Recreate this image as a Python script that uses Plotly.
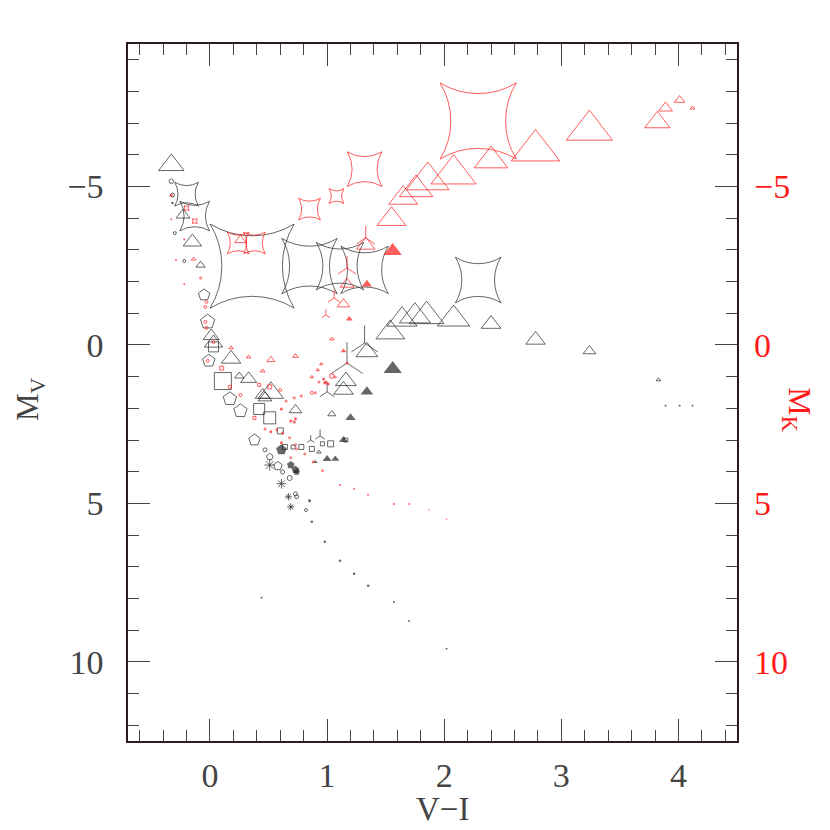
import plotly.graph_objects as go

# ---------------- data (V-I colour, absolute magnitude, symbol weight) ----------------
# black open triangles (M_V)
bt_vi = [-0.33,-0.23,-0.15,-0.08,0.01,0.03,0.18,0.25,0.33,0.45,0.52,0.47,0.73,1.04,1.16,1.14,1.34,1.54,1.64,1.75,1.85,2.08,2.40,2.78,3.24,3.83,0.93]
bt_mv = [-5.68,-4.10,-3.25,-2.52,-0.28,-0.06,0.44,0.98,1.07,1.58,1.51,1.67,2.05,2.18,1.14,1.42,0.22,-0.39,-0.80,-0.91,-0.91,-0.82,-0.66,-0.16,0.19,1.10,3.38]
bt_w  = [22,12,16,8,14,16,17,8,14,13,22,12,11,7,18,17,19,25,26,27,30,28,17,17,11,4,4]

# black filled triangles
bf_vi = [1.56,1.34,1.20,1.14,1.00,1.07,0.90]
bf_mv = [0.76,1.48,2.30,3.00,3.60,3.60,3.69]
bf_w  = [16,11,9,8,8,7,4]

# black four-point stars
bs_vi = [2.29,0.36,0.85,1.11,1.32,-0.20,-0.13]
bs_mv = [-2.05,-2.49,-2.49,-2.49,-2.37,-4.76,-4.07]
bs_w  = [46,85,56,48,48,24,30]

# black three-armed symbols
by_vi = [1.32,1.17,1.00,0.94,0.86]
by_mv = [-0.06,0.57,1.48,2.87,3.00]
by_w  = [22,26,12,8,6]

# black open squares
bq_vi = [0.11,0.42,0.51,0.60,0.64,0.71,0.78,0.87,0.96,1.03,1.16,0.03]
bq_mv = [1.14,2.02,2.30,2.71,3.22,3.22,3.22,3.28,3.12,3.12,3.00,0.06]
bq_w  = [17,11,12,6,5,4,5,5,4,6,4,10]

# black open pentagons
bp_vi = [-0.02,-0.05,-0.01,0.17,0.26,0.38,0.51,0.58,-0.33]
bp_mv = [-0.73,-1.58,0.50,1.70,2.08,3.00,3.53,3.82,-5.17]
bp_w  = [15,12,13,14,14,12,7,9,5]

# black filled pentagons
bpf_vi = [0.61,0.69,0.73,0.74]
bpf_mv = [3.31,3.79,3.94,4.01]
bpf_w  = [11,8,8,7]

# black open circles
bc_vi = [0.47,0.62,0.68,0.73,0.74,0.82,-0.32,-0.30,-0.22]
bc_mv = [3.31,4.01,4.20,4.70,4.79,5.21,-4.73,-3.53,-2.65]
bc_w  = [4,4,5,4,4,3,4,3,3]

# black dots
bd_vi = [0.85,0.87,0.98,1.11,1.23,1.35,1.57,1.70,2.02,0.44,3.89,4.01,4.12,-0.32]
bd_mv = [4.92,5.58,6.21,6.81,7.22,7.60,8.11,8.71,9.59,7.98,1.92,1.92,1.92,-4.48]
bd_w  = [3,2.5,2.5,2.5,2.5,2.5,2,2,2,2,2,2,2,2.5]

# black asterisks
ba_vi = [0.51,0.61,0.67,0.69]
ba_mv = [3.79,4.38,4.79,5.11]
ba_w  = [9,8,6,6]

# red open triangles (M_K)
rt_vi = [3.24,2.78,2.40,2.08,1.86,1.76,1.65,1.55,3.89,3.82,4.01,4.12,1.33,1.17,1.14,0.26,1.04,0.52,0.73,0.45,0.95,0.92,0.87,0.18,0.33,-0.33,-0.14]
rt_mk = [-6.78,-6.14,-5.82,-5.39,-5.19,-4.91,-4.64,-3.97,-7.48,-7.03,-7.73,-7.48,-3.15,-1.92,-1.29,-3.31,-0.19,0.47,0.35,0.82,0.60,0.79,1.01,0.09,0.38,-4.73,-2.71]
rt_w  = [40,42,29,39,37,29,25,25,12,22,9,4,16,12,11,10,4,7,5,4,3,3,3,4,4,3,4]

# red filled triangles
rf_vi = [1.56,1.34,1.19,1.14,0.99]
rf_mk = [-2.97,-1.92,-0.82,0.19,1.17]
rf_w  = [16,9,6,5,4]

# red four-point stars
rs_vi = [2.29,1.32,1.08,0.85,0.24,0.38,-0.20,-0.13]
rs_mk = [-7.07,-5.55,-4.70,-4.29,-3.22,-3.22,-4.32,-3.91]
rs_w  = [77,35,15,22,22,22,5,5]

# red three-armed symbols
ry_vi = [1.33,1.17,1.06,0.99]
ry_mk = [-3.38,-2.43,-1.48,-0.95]
ry_w  = [15,15,10,7]

# red open squares
rq_vi = [0.10,0.42,0.51,0.38,1.04,0.17]
rq_mk = [0.73,1.26,1.32,2.30,0.98,1.32]
rq_w  = [4,3,4,3,4,3]

# red open circles
rc_vi = [0.26,0.60,0.87,-0.02,0.03,0.47,0.57,0.62,0.68,0.73,0.74,0.81,0.69,0.88,0.96,0.65,0.72,0.78,-0.04,-0.03,-0.08,-0.04,-0.03,0.93,1.07,1.17,0.90]
rc_mk = [1.58,1.42,1.51,0.50,-0.09,2.65,2.68,2.78,2.93,3.15,3.28,3.44,3.56,3.69,3.97,1.77,1.67,1.61,-1.20,-1.36,-2.11,-0.73,-0.54,1.17,1.01,0.57,1.51]
rc_w  = [3,3,3,3,3,2,2,2,2,2,2,2,2,2,2,2,2,2,3,3,2,3,3,2,2,2,2]

# red dots
rd_vi = [0.61,0.69,0.73,0.72,0.52,0.61,0.97,0.98,1.01,-0.33,-0.22,-0.29,-0.22,1.11,1.23,1.35,1.57,1.70,1.87,2.02]
rd_mk = [2.02,2.40,2.33,2.43,2.74,3.09,1.07,1.20,1.23,-3.97,-3.34,-2.68,-1.92,4.42,4.54,4.73,5.02,5.02,5.21,5.49]
rd_w  = [3,3,3,3,3,3,3,3,3,2,2,2,2,2,2,2,2,2,1.5,1.5]

x_ticks = [0, 1, 2, 3, 4]
y_ticks = [-5, 0, 5, 10]
y_tick_text = ["\u22125", "0", "5", "10"]

BLACK = "#262626"
RED = "#ff1a1a"
FONT = "Liberation Serif"

fig = go.Figure()


def add(vi, m, w, symbol, color, k=1.0, filled=False, angle=0):
    fig.add_trace(go.Scatter(
        x=vi, y=m, mode="markers", hoverinfo="skip", showlegend=False,
        marker=dict(symbol=symbol, size=[v * k for v in w], color=color,
                    angle=angle,
                    line=dict(color=color, width=0 if filled else 1)),
    ))


add(bs_vi, bs_mv, bs_w, "star-diamond-open", BLACK, 1.0, angle=45)
add(bt_vi, bt_mv, bt_w, "triangle-up-open", BLACK)
add(bf_vi, bf_mv, bf_w, "triangle-up", BLACK, filled=True)
add(by_vi, by_mv, by_w, "y-up-open", BLACK)
add(bq_vi, bq_mv, bq_w, "square-open", BLACK)
add(bp_vi, bp_mv, bp_w, "pentagon-open", BLACK)
add(bpf_vi, bpf_mv, bpf_w, "pentagon", BLACK, filled=True)
add(bc_vi, bc_mv, bc_w, "circle-open", BLACK)
add(bd_vi, bd_mv, bd_w, "circle", BLACK, filled=True)
add(ba_vi, ba_mv, ba_w, "asterisk-open", BLACK)

add(rs_vi, rs_mk, rs_w, "star-diamond-open", RED, 1.0, angle=45)
add(rt_vi, rt_mk, rt_w, "triangle-up-open", RED)
add(rf_vi, rf_mk, rf_w, "triangle-up", RED, filled=True)
add(ry_vi, ry_mk, ry_w, "y-up-open", RED)
add(rq_vi, rq_mk, rq_w, "square-open", RED)
add(rc_vi, rc_mk, rc_w, "circle-open", RED)
add(rd_vi, rd_mk, rd_w, "circle", RED, filled=True)

# dummy trace so the right-hand (M_K) axis is drawn
fig.add_trace(go.Scatter(x=[None], y=[None], yaxis="y2", mode="markers",
                         showlegend=False, hoverinfo="skip"))

Y_RANGE = [12.5, -9.5]
tickfont = dict(family=FONT, size=34, color="#444444")

fig.update_layout(
    width=830, height=830,
    margin=dict(l=120, r=101, t=36, b=97),
    paper_bgcolor="white", plot_bgcolor="white",
    font=dict(family=FONT),
    xaxis=dict(
        range=[-0.7, 4.5], tickmode="array", tickvals=x_ticks,
        ticks="inside", ticklen=22, tickwidth=1, tickcolor="#444",
        minor=dict(tickmode="linear", tick0=0, dtick=0.2, ticks="inside",
                   ticklen=11, tickwidth=1, tickcolor="#444"),
        showline=True, linecolor="#2a1c1c", linewidth=1.5, mirror="ticks",
        showgrid=False, zeroline=False, tickfont=tickfont,
        ticklabelstandoff=3,
    ),
    yaxis=dict(
        range=Y_RANGE, tickmode="array", tickvals=y_ticks, ticktext=y_tick_text,
        ticks="inside", ticklen=22, tickwidth=1, tickcolor="#444",
        minor=dict(tickmode="linear", tick0=0, dtick=1, ticks="inside",
                   ticklen=11, tickwidth=1, tickcolor="#444"),
        showline=True, linecolor="#2a1c1c", linewidth=1.5, mirror="ticks",
        showgrid=False, zeroline=False, tickfont=tickfont,
        ticklabelstandoff=16,
    ),
    yaxis2=dict(
        range=Y_RANGE, overlaying="y", side="right", tickmode="array",
        tickvals=y_ticks, ticktext=y_tick_text, ticks="",
        showline=False, showgrid=False, zeroline=False,
        tickfont=dict(family=FONT, size=34, color=RED),
        ticklabelstandoff=16,
    ),
    annotations=[
        dict(text="V\u2212I", xref="paper", yref="paper", x=0.516, y=-0.098,
             showarrow=False, font=dict(family=FONT, size=33, color="#444444"),
             xanchor="center", yanchor="middle"),
        dict(text="M<sub>V</sub>", xref="paper", yref="paper", x=-0.16, y=0.49,
             showarrow=False, textangle=-90,
             font=dict(family=FONT, size=31, color="#444444"),
             xanchor="center", yanchor="middle"),
        dict(text="M<sub>K</sub>", xref="paper", yref="paper", x=1.098, y=0.475,
             showarrow=False, textangle=90,
             font=dict(family=FONT, size=32, color=RED),
             xanchor="center", yanchor="middle"),
    ],
)

fig.write_html("out.html")
